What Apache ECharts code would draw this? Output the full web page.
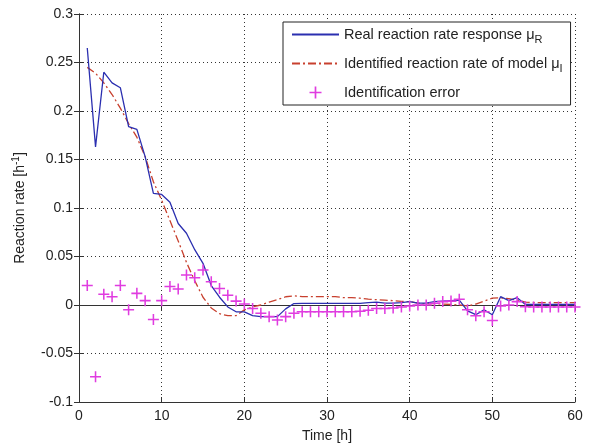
<!DOCTYPE html>
<html>
<head>
<meta charset="utf-8">
<script src="https://cdn.jsdelivr.net/npm/echarts@6/dist/echarts.min.js"></script>
<style>
  html, body { margin: 0; padding: 0; background: #fff; }
  #chart { width: 590px; height: 448px; }
</style>
</head>
<body>
<div id="chart"></div>
<script>
const hours = [1, 2, 3, 4, 5, 6, 7, 8, 9, 10, 11, 12, 13, 14, 15, 16, 17, 18, 19, 20,
  21, 22, 23, 24, 25, 26, 27, 28, 29, 30, 31, 32, 33, 34, 35, 36, 37, 38, 39, 40,
  41, 42, 43, 44, 45, 46, 47, 48, 49, 50, 51, 52, 53, 54, 55, 56, 57, 58, 59, 60]

const realRate = [0.265, 0.163, 0.240, 0.229, 0.224, 0.184, 0.181, 0.153, 0.115, 0.114,
  0.106, 0.084, 0.074, 0.057, 0.043, 0.020, 0.008, -0.002, -0.007, -0.007,
  -0.011, -0.012, -0.012, -0.012, -0.004, 0.0015, 0.0017, 0.0017, 0.0017, 0.0017,
  0.0017, 0.0017, 0.0017, 0.0017, 0.0025, 0.003, 0.002, 0.002, 0.0025, 0.0035,
  0.002, 0.002, 0.0035, 0.004, 0.0045, 0.005, -0.006, -0.010, -0.005, -0.010,
  0.0086, 0.0045, 0.0075, 0.0005, 0.0005, 0.0005, 0.0005, 0.0005, 0.0005, 0.0005]

const modelRate = [0.245, 0.239, 0.229, 0.217, 0.203, 0.187, 0.173, 0.153, 0.127, 0.108,
  0.087, 0.066, 0.044, 0.025, 0.008, -0.003, -0.009, -0.011, -0.011, -0.005,
  -0.002, 0.0, 0.003, 0.0055, 0.0085, 0.0095, 0.0086, 0.0086, 0.0086, 0.0086,
  0.0086, 0.0076, 0.0075, 0.007, 0.006, 0.0055, 0.005, 0.0045, 0.0037, 0.0035,
  0.002, 0.001, 0.0015, 0.001, 0.0005, 0.0, -0.001, 0.001, 0.004, 0.007,
  0.0075, 0.0065, 0.005, 0.003, 0.0025, 0.0025, 0.0025, 0.0025, 0.0025, 0.0025]

const identError = [0.020, -0.074, 0.011, 0.0086, 0.020, -0.005, 0.012, 0.0045, -0.015, 0.0045,
  0.019, 0.0165, 0.031, 0.028, 0.036, 0.024, 0.017, 0.010, 0.004, 0.001,
  -0.0035, -0.0086, -0.012, -0.0155, -0.012, -0.0086, -0.007, -0.007, -0.007, -0.007,
  -0.007, -0.007, -0.007, -0.0065, -0.0055, -0.0035, -0.0035, -0.003, -0.002, -0.001,
  0.0, 0.0, 0.0017, 0.0035, 0.004, 0.006, -0.005, -0.011, -0.007, -0.016,
  -0.001, 0.0, 0.0035, -0.0017, -0.002, -0.002, -0.002, -0.002, -0.002, -0.002]

const seriesNames = ['Real reaction rate response μR', 'Identified reaction rate of model μI', 'Identification error']
const legendLabels = {
  [seriesNames[0]]: '{t|Real reaction rate response μ}{s|R}',
  [seriesNames[1]]: '{t|Identified reaction rate of model μ}{s|I}',
  [seriesNames[2]]: '{t|Identification error}',
}

const pairs = (values) => hours.map((h, i) => [h, values[i]])

const font = 'Liberation Sans, Arial, sans-serif'
const gridLine = { show: true, lineStyle: { color: '#333', type: [1, 3], width: 1 } }
const plus = 'path://M4.3,0H5.7V4.3H10V5.7H5.7V10H4.3V5.7H0V4.3H4.3Z'
const blue = '#2b2fb0'
const red = '#c8402e'
const magenta = '#e03ce0'

const chart = echarts.init(document.getElementById('chart'))
chart.setOption({
  animation: false,
  textStyle: { fontFamily: font },
  grid: { left: 79, right: 15, top: 14, bottom: 46 },
  legend: {
    orient: 'vertical',
    left: 283,
    top: 22,
    padding: [5, 8, 5, 8],
    itemGap: 11,
    itemWidth: 47,
    itemHeight: 12,
    backgroundColor: '#fff',
    borderColor: '#222',
    borderWidth: 1,
    borderRadius: 0,
    data: [
      { name: seriesNames[0], itemStyle: { opacity: 0 } },
      { name: seriesNames[1], itemStyle: { opacity: 0 } },
      { name: seriesNames[2] },
    ],
    formatter: (name) => legendLabels[name],
    textStyle: {
      fontFamily: font,
      rich: {
        t: { fontSize: 14.5, color: '#222', fontFamily: font },
        s: { fontSize: 11, color: '#222', fontFamily: font, padding: [10, 0, 0, 0] },
      },
    },
  },
  xAxis: [
    {
      type: 'value',
      min: 0,
      max: 60,
      interval: 10,
      name: 'Time [h]',
      nameLocation: 'middle',
      nameGap: 27,
      nameTextStyle: { color: '#222', fontSize: 14 },
      axisLine: { onZero: false, lineStyle: { color: '#333', width: 1 } },
      axisTick: { inside: true, length: 5, lineStyle: { color: '#333' } },
      axisLabel: { color: '#222', fontSize: 14, margin: 7 },
      splitLine: gridLine,
    },
    {
      type: 'value',
      position: 'top',
      min: 0,
      max: 60,
      interval: 10,
      axisLine: { lineStyle: { color: '#333', width: 1 } },
      axisTick: { inside: true, length: 5, lineStyle: { color: '#333' } },
      axisLabel: { show: false },
      splitLine: { show: false },
    },
  ],
  yAxis: [
    {
      type: 'value',
      min: -0.1,
      max: 0.3,
      interval: 0.05,
      name: 'Reaction rate [h{sup|-1}]',
      nameLocation: 'middle',
      nameGap: 50,
      nameRotate: 90,
      nameTextStyle: {
        color: '#222',
        fontSize: 14,
        rich: { sup: { fontSize: 10, color: '#222', padding: [0, 0, 8, 0] } },
      },
      axisLine: { onZero: false, lineStyle: { color: '#333', width: 1 } },
      axisTick: { inside: true, length: 5, lineStyle: { color: '#333' } },
      axisLabel: { color: '#222', fontSize: 14, margin: 6, formatter: (v) => String(+v.toFixed(2)) },
      splitLine: gridLine,
    },
    {
      type: 'value',
      position: 'right',
      min: -0.1,
      max: 0.3,
      interval: 0.05,
      axisLine: { show: true, lineStyle: { color: '#333', width: 1 } },
      axisTick: { show: true, inside: true, length: 5, lineStyle: { color: '#333' } },
      axisLabel: { show: false },
      splitLine: { show: false },
    },
  ],
  series: [
    {
      name: seriesNames[0],
      type: 'line',
      data: pairs(realRate),
      symbol: 'none',
      lineStyle: { color: blue, width: 1.3 },
      itemStyle: { color: blue },
      z: 3,
    },
    {
      name: seriesNames[1],
      type: 'line',
      data: pairs(modelRate),
      symbol: 'none',
      lineStyle: { color: red, width: 1.3, type: [8, 3, 2, 3] },
      itemStyle: { color: red },
      z: 2,
    },
    {
      name: seriesNames[2],
      type: 'scatter',
      data: pairs(identError),
      symbol: plus,
      symbolSize: 11,
      itemStyle: { color: magenta, opacity: 1 },
      z: 4,
    },
  ],
})
</script>
</body>
</html>
